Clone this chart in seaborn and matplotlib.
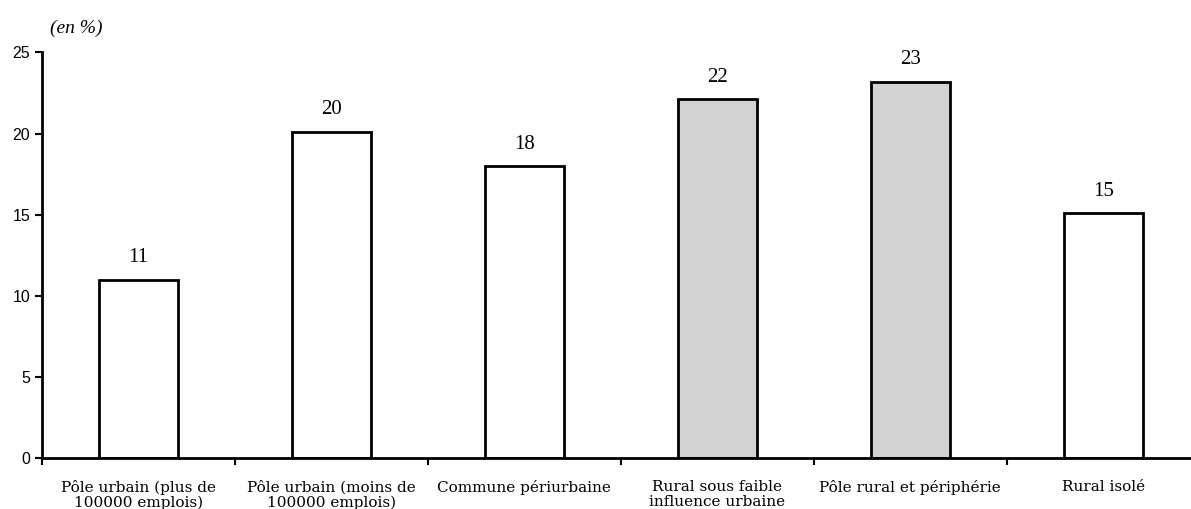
import matplotlib
matplotlib.use("Agg")
import matplotlib.pyplot as plt
import seaborn as sns
import pandas as pd

# Données
categories = ["Pôle urbain (plus de\n100000 emplois)",
              "Pôle urbain (moins de\n100000 emplois)",
              "Commune périurbaine",
              "Rural sous faible\ninfluence urbaine",
              "Pôle rural et périphérie",
              "Rural isolé"]
valeurs = [11.0, 20.1, 18.0, 22.1, 23.2, 15.1]
couleurs = ["white", "white", "white", "#d2d2d2", "#d2d2d2", "white"]

df = pd.DataFrame({"cat": categories, "val": valeurs})

sns.set_style("white")
plt.rcParams["text.color"] = "black"
plt.rcParams["xtick.color"] = "black"
plt.rcParams["ytick.color"] = "black"

fig = plt.figure(figsize=(11.91, 5.09), dpi=100)
ax = fig.add_axes([0.0353, 0.1, 0.972, 0.797])

sns.barplot(data=df, x="cat", y="val", hue="cat", order=categories,
            palette=dict(zip(categories, couleurs)), legend=False,
            width=0.41, edgecolor="black", linewidth=2, saturation=1, ax=ax)

for i, v in enumerate(valeurs):
    ax.annotate(f"{v:.0f}", (i, v), xytext=(0, 9), textcoords="offset points",
                ha="center", va="bottom", fontsize=15, family="Liberation Serif")

ax.set_xlim(-0.5, 5.5)
ax.set_ylim(0, 25)
ax.set_yticks([0, 5, 10, 15, 20, 25])
ax.tick_params(axis="y", left=True, direction="out", length=5, width=1.5,
               labelsize=11.5)
for t in ax.get_yticklabels():
    t.set_family("Liberation Sans")

# graduations aux limites des catégories, étiquettes au centre
ax.set_xticks([i - 0.5 for i in range(7)])
ax.set_xticklabels([])
ax.set_xticks(range(6), minor=True)
ax.set_xticklabels(categories, minor=True, fontsize=11, family="DejaVu Serif",
                   linespacing=1.05)
ax.tick_params(axis="x", which="major", bottom=True, direction="out",
               length=5, width=1.5)
ax.tick_params(axis="x", which="minor", bottom=True, length=0, pad=16)
ax.set_xlabel("")
ax.set_ylabel("")

for s in ["top", "right"]:
    ax.spines[s].set_visible(False)
for s in ["left", "bottom"]:
    ax.spines[s].set_linewidth(2)
    ax.spines[s].set_color("black")

fig.text(0.042, 0.935, "(en %)", fontsize=14, style="italic",
         family="Liberation Serif")

fig.savefig("out.png", dpi=100)
